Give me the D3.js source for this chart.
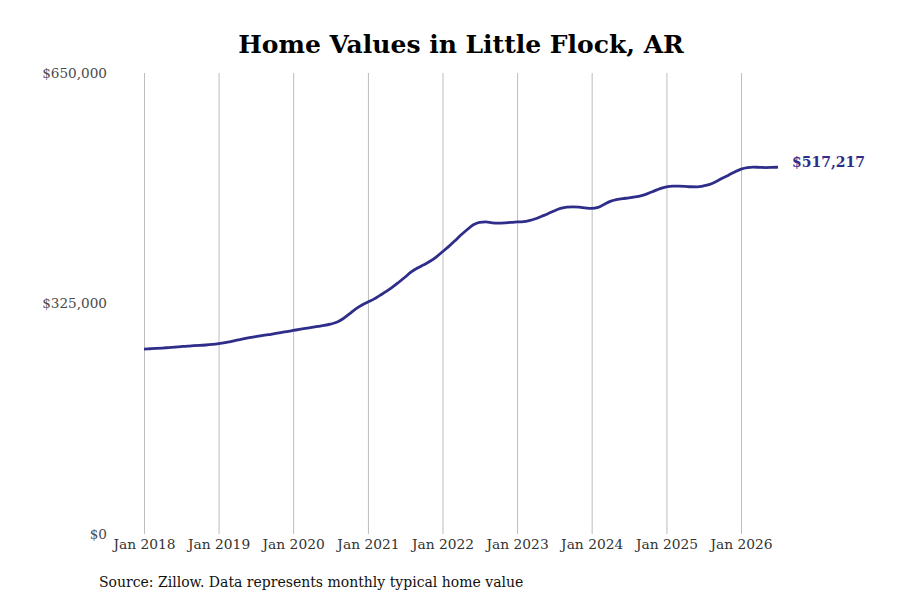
<!DOCTYPE html>
<html>
<head>
<meta charset="utf-8">
<script src="https://cdn.jsdelivr.net/npm/d3@7"></script>
<style>
  body { margin: 0; background: #fff; }
  svg { font-family: "DejaVu Serif", serif; }
</style>
</head>
<body>
<svg id="chart" width="900" height="600"></svg>
<script>
let width = 900;
let height = 600;
const margin = { left: 144, right: 122, top: 73, bottom: 66 };

// monthly typical home value, Jan 2018 .. Jul 2026
const startMonth = "2018-01";
const homeValues = [
  260800, 261200, 261600, 262200, 262900, 263600, 264300, 265000, 265500, 266000, 266500, 267300,
  268400, 269800, 271400, 273200, 275000, 276800, 278400, 279800, 281000, 282500, 284000, 285500,
  287000, 288500, 290000, 291400, 292700, 294000, 295800, 298500, 303500, 310000, 317000, 322500,
  327000, 331500, 336500, 342000, 348000, 355000, 362000, 369500, 375000, 379500, 384500, 390500,
  398000, 405500, 413000, 421500, 429000, 436000, 439500, 440200, 438800, 438300, 438600, 439500,
  440000, 440500, 442000, 444500, 448000, 451500, 455500, 459000, 461000, 461300, 461000, 459800,
  459000, 460500, 464500, 469000, 471500, 473000, 473800, 475200, 477200, 480000, 483500, 487000,
  489500, 490500, 490500, 490200, 489600, 489500, 490700, 493000, 497000, 501500, 506000, 510500,
  514500, 516700, 517300, 517000, 516700, 516900, 517217
];
const yTicks = [0, 325000, 650000];
const xTickYears = [2018, 2019, 2020, 2021, 2022, 2023, 2024, 2025, 2026];

const lineColor = "#2f2d8a";

const drawChart = () => {
  let parseMonth = d3.timeParse("%Y-%m");
  let start = parseMonth(startMonth);
  let series = homeValues.map((v, i) => ({ date: d3.timeMonth.offset(start, i), value: v }));

  let xScale = d3.scaleTime()
    .domain(d3.extent(series, d => d.date))
    .range([margin.left, width - margin.right]);

  let yScale = d3.scaleLinear()
    .domain([0, 650000])
    .range([height - margin.bottom, margin.top]);

  let svg = d3.select("#chart");

  // vertical year gridlines + labels
  let xTicks = xTickYears.map(y => new Date(y, 0, 1));
  let xAxis = svg.append("g")
    .attr("transform", `translate(0,${height - margin.bottom})`)
    .call(d3.axisBottom(xScale)
      .tickValues(xTicks)
      .tickSize(-(height - margin.bottom - margin.top))
      .tickPadding(5)
      .tickFormat(d3.timeFormat("Jan %Y")));
  xAxis.select(".domain").remove();
  xAxis.selectAll(".tick line").attr("stroke", "#bdbdbd").attr("stroke-width", 1);
  xAxis.selectAll(".tick text")
    .attr("fill", "#333")
    .style("font-family", "DejaVu Serif")
    .style("font-size", "13.8px");

  let yAxis = svg.append("g")
    .attr("transform", `translate(107,0)`)
    .call(d3.axisLeft(yScale)
      .tickValues(yTicks)
      .tickSize(0)
      .tickPadding(0)
      .tickFormat(d => "$" + d3.format(",")(d)));
  yAxis.select(".domain").remove();
  yAxis.selectAll(".tick text")
    .attr("fill", "#4a4a4a")
    .style("font-family", "DejaVu Serif")
    .style("font-size", "13.6px");

  let line = d3.line()
    .x(d => xScale(d.date))
    .y(d => yScale(d.value))
    .curve(d3.curveMonotoneX);

  svg.append("path")
    .datum(series)
    .attr("d", line)
    .attr("fill", "none")
    .attr("stroke", lineColor)
    .attr("stroke-width", 2.8)
    .attr("stroke-linejoin", "round");

  let last = series[series.length - 1];
  svg.append("text")
    .attr("x", xScale(last.date) + 14)
    .attr("y", yScale(last.value) - 5)
    .attr("dy", "0.35em")
    .attr("fill", lineColor)
    .style("font-weight", "bold")
    .style("font-size", "14px")
    .text("$" + d3.format(",")(last.value));

  svg.append("text")
    .attr("x", (margin.left + width - margin.right) / 2)
    .attr("y", 53)
    .attr("text-anchor", "middle")
    .style("font-weight", "bold")
    .style("font-size", "25px")
    .text("Home Values in Little Flock, AR");

  svg.append("text")
    .attr("x", 99)
    .attr("y", 587)
    .style("font-size", "14px")
    .attr("fill", "#111")
    .text("Source: Zillow. Data represents monthly typical home value");
};

window.onload = drawChart;
</script>
</body>
</html>
